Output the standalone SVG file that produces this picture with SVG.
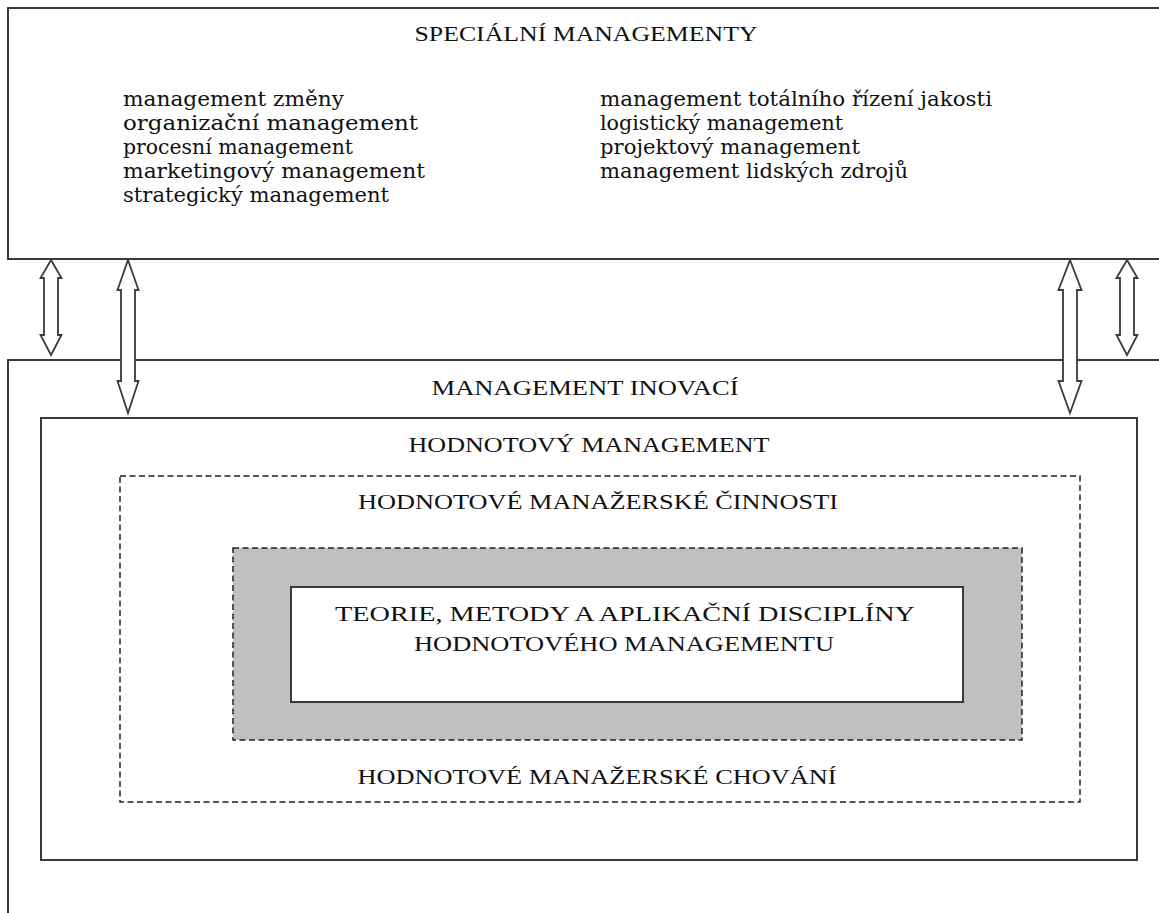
<svg xmlns="http://www.w3.org/2000/svg" width="1159" height="913" viewBox="0 0 1159 913">
<defs>
<style>
.box{fill:#fff;stroke:#3a3a3a;stroke-width:2}
.dash{fill:#fff;stroke:#222;stroke-width:1.5;stroke-dasharray:6 3.5}
.gray{fill:#c0c0c0;stroke:#222;stroke-width:1.5;stroke-dasharray:6 3.5}
.arrow{fill:#fff;stroke:#3a3a3a;stroke-width:1.8;stroke-linejoin:miter}
.cap{font-family:"Liberation Serif","Times New Roman",serif;font-size:22px;fill:#111}
.list{font-family:"DejaVu Serif","Liberation Serif",serif;font-size:21px;fill:#111}
</style>
</defs>
<rect width="1159" height="913" fill="#fff"/>

<g id="special">
<rect class="box" x="8" y="8" width="1170" height="251"/>
<text class="cap" x="586" y="41" text-anchor="middle" textLength="343" lengthAdjust="spacingAndGlyphs">SPECIÁLNÍ MANAGEMENTY</text>
<text class="list" x="123" y="106" textLength="221" lengthAdjust="spacingAndGlyphs">management změny</text>
<text class="list" x="123" y="130" textLength="295" lengthAdjust="spacingAndGlyphs">organizační management</text>
<text class="list" x="123" y="154" textLength="230" lengthAdjust="spacingAndGlyphs">procesní management</text>
<text class="list" x="123" y="178" textLength="302" lengthAdjust="spacingAndGlyphs">marketingový management</text>
<text class="list" x="123" y="202" textLength="266" lengthAdjust="spacingAndGlyphs">strategický management</text>
<text class="list" x="600" y="106" textLength="392" lengthAdjust="spacingAndGlyphs">management totálního řízení jakosti</text>
<text class="list" x="600" y="130" textLength="243" lengthAdjust="spacingAndGlyphs">logistický management</text>
<text class="list" x="600" y="154" textLength="260" lengthAdjust="spacingAndGlyphs">projektový management</text>
<text class="list" x="600" y="178" textLength="308" lengthAdjust="spacingAndGlyphs">management lidských zdrojů</text>
</g>

<g id="inovace">
<rect class="box" x="8" y="360" width="1170" height="600"/>
<text class="cap" x="585" y="395" text-anchor="middle" textLength="307" lengthAdjust="spacingAndGlyphs">MANAGEMENT INOVACÍ</text>
</g>

<g id="hodnotovy">
<rect class="box" x="41" y="418" width="1096" height="442"/>
<text class="cap" x="589" y="452" text-anchor="middle" textLength="361" lengthAdjust="spacingAndGlyphs">HODNOTOVÝ MANAGEMENT</text>
</g>

<g id="cinnosti">
<rect class="dash" x="120" y="476" width="960" height="326"/>
<text class="cap" x="598" y="509" text-anchor="middle" textLength="480" lengthAdjust="spacingAndGlyphs">HODNOTOVÉ MANAŽERSKÉ ČINNOSTI</text>
<text class="cap" x="597" y="784" text-anchor="middle" textLength="479" lengthAdjust="spacingAndGlyphs">HODNOTOVÉ MANAŽERSKÉ CHOVÁNÍ</text>
</g>

<g id="gray">
<rect class="gray" x="233" y="548" width="789" height="192"/>
</g>

<g id="teorie">
<rect class="box" x="291" y="587" width="672" height="115"/>
<text class="cap" x="625" y="621" text-anchor="middle" textLength="580" lengthAdjust="spacingAndGlyphs">TEORIE, METODY A APLIKAČNÍ DISCIPLÍNY</text>
<text class="cap" x="624" y="651" text-anchor="middle" textLength="420" lengthAdjust="spacingAndGlyphs">HODNOTOVÉHO MANAGEMENTU</text>
</g>

<g id="connectors">
<polygon class="arrow" points="51,260 61.5,278 58,278 58,335 61.5,335 51,355 40.5,335 44,335 44,278 40.5,278"/>
<polygon class="arrow" points="128,260 138.5,290 135,290 135,381 138.5,381 128,413 117.5,381 121,381 121,290 117.5,290"/>
<polygon class="arrow" points="1070,260 1081.5,290 1077,290 1077,381 1081.5,381 1070,413 1058.5,381 1063,381 1063,290 1058.5,290"/>
<polygon class="arrow" points="1127,260 1137.5,278 1134,278 1134,335 1137.5,335 1127,355 1116.5,335 1120,335 1120,278 1116.5,278"/>
</g>
</svg>
